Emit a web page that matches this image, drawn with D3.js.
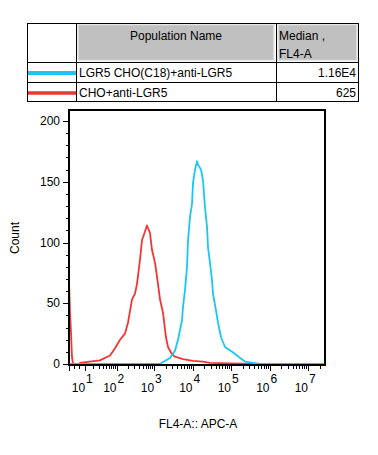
<!DOCTYPE html>
<html>
<head>
<meta charset="utf-8">
<script src="https://cdn.jsdelivr.net/npm/d3@7"></script>
<style>
  body { margin: 0; background: #fff; }
  text { font-family: "Liberation Sans", Arial, sans-serif; }
</style>
</head>
<body>
<div id="chart"></div>
<script>
// Populations shown in the legend table
const populations = ['LGR5 CHO(C18)+anti-LGR5', 'CHO+anti-LGR5'];
const medians = ['1.16E4', '625'];
const seriesColors = ['#1cc6f2', '#f23535'];

// Histogram outlines, [FL4-A value, count]
const cyanCounts = [
  [0, 0], [1400, 0], [2600, 5], [3500, 11], [4200, 20], [5330, 36], [5660, 47],
  [6380, 61], [7190, 80], [7640, 102], [8610, 121], [9710, 132], [10300, 149],
  [11620, 160], [13100, 167], [13910, 164], [16640, 160], [18760, 151], [21100, 129],
  [23790, 113], [25260, 96], [28470, 83], [32090, 69], [34070, 58], [40780, 44],
  [45960, 34], [55000, 22], [69900, 14], [106300, 10], [143300, 7], [171500, 5],
  [230900, 2], [372600, 1], [567000, 0], [2.76e7, 0]
];
const redCounts = [
  [0, 68], [0.4, 42], [0.8, 25], [1.2, 6], [1.7, 0], [5.5, 0], [5.8, 1], [15, 2],
  [33, 3], [66, 7], [91, 13], [125, 20], [170, 25], [205, 34], [262, 53], [315, 58],
  [356, 66], [427, 86], [482, 102], [578, 109], [650, 114], [780, 108], [880, 94],
  [1060, 83], [1190, 72], [1430, 53], [1710, 42], [2040, 22], [2300, 14], [2930, 8],
  [3500, 6], [5660, 4], [10300, 2.5], [18800, 2], [28500, 1], [94000, 0.5], [370000, 0]
];

const xDecades = [1, 2, 3, 4, 5, 6, 7];
const yMajorTicks = [0, 50, 100, 150, 200];

const width = 378, height = 455;
const plot = { left: 69, right: 325, top: 110, bottom: 364 };

const svg = d3.select('#chart').append('svg')
  .attr('width', width)
  .attr('height', height);

// ---------- legend table ----------
const tbl = svg.append('g');
const colX = [27, 76, 276, 359];
const rowY = [23, 62, 82, 102];

// gray header cells
[[colX[1], colX[2]], [colX[2], colX[3]]].forEach(([a, b]) => {
  tbl.append('rect')
    .attr('x', a + 2).attr('y', rowY[0] + 1.5)
    .attr('width', b - a - 4).attr('height', rowY[1] - rowY[0] - 3)
    .attr('fill', '#c0c0c0')
    .attr('stroke', '#e6e6e6')
    .attr('stroke-width', 1.5);
});

tbl.append('rect')
  .attr('x', colX[0] + 0.5).attr('y', rowY[0] + 0.5)
  .attr('width', colX[3] - colX[0] - 1).attr('height', rowY[3] - rowY[0] - 1)
  .attr('fill', 'none').attr('stroke', '#000');

[colX[1], colX[2]].forEach(x => {
  tbl.append('line')
    .attr('x1', x + 0.5).attr('x2', x + 0.5)
    .attr('y1', rowY[0]).attr('y2', rowY[3])
    .attr('stroke', '#000');
});
[rowY[1], rowY[2]].forEach(y => {
  tbl.append('line')
    .attr('x1', colX[0]).attr('x2', colX[3])
    .attr('y1', y + 0.5).attr('y2', y + 0.5)
    .attr('stroke', '#000');
});

tbl.append('text')
  .attr('x', (colX[1] + colX[2]) / 2).attr('y', 40)
  .attr('text-anchor', 'middle')
  .style('font-size', '12px')
  .text('Population Name');
tbl.append('text')
  .attr('x', colX[2] + 3).attr('y', 40)
  .style('font-size', '12px')
  .text('Median ,');
tbl.append('text')
  .attr('x', colX[2] + 3).attr('y', 58)
  .style('font-size', '12px')
  .text('FL4-A');

populations.forEach((name, i) => {
  const top = rowY[i + 1], bot = rowY[i + 2];
  const mid = (top + bot) / 2;
  tbl.append('line')
    .attr('x1', colX[0] + 1).attr('x2', colX[1])
    .attr('y1', mid + 1).attr('y2', mid + 1)
    .attr('stroke', seriesColors[i])
    .attr('stroke-width', i === 0 ? 4 : 3.5);
  tbl.append('text')
    .attr('x', colX[1] + 3).attr('y', mid + 5)
    .style('font-size', '12px')
    .text(name);
  tbl.append('text')
    .attr('x', colX[3] - 3).attr('y', mid + 5)
    .attr('text-anchor', 'end')
    .style('font-size', '12px')
    .text(medians[i]);
});

// ---------- histogram ----------
const x = d3.scaleSymlog()
  .constant(6.2)
  .domain([0, 2.76e7])
  .range([plot.left, plot.right]);

const y = d3.scaleLinear()
  .domain([0, 200])
  .range([plot.bottom, 121]);

svg.append('defs').append('clipPath').attr('id', 'clip')
  .append('rect')
  .attr('x', plot.left).attr('y', plot.top)
  .attr('width', plot.right - plot.left).attr('height', plot.bottom - plot.top + 1);

const line = d3.line()
  .x(d => x(d[0]))
  .y(d => y(d[1]));

const curves = svg.append('g').attr('clip-path', 'url(#clip)');
curves.append('path')
  .datum(redCounts)
  .attr('d', line)
  .attr('fill', 'none')
  .attr('stroke', seriesColors[1])
  .attr('stroke-width', 1.8)
  .attr('stroke-linejoin', 'round');
curves.append('path')
  .datum(cyanCounts)
  .attr('d', line)
  .attr('fill', 'none')
  .attr('stroke', seriesColors[0])
  .attr('stroke-width', 1.8)
  .attr('stroke-linejoin', 'round');

// frame
svg.append('rect')
  .attr('x', plot.left).attr('y', plot.top)
  .attr('width', plot.right - plot.left).attr('height', plot.bottom + 1 - plot.top)
  .attr('fill', 'none')
  .attr('stroke', '#000')
  .attr('stroke-width', 2);

// y axis ticks
const yMinor = d3.range(0, 210, 10);
svg.append('g').selectAll('line')
  .data(yMinor)
  .join('line')
  .attr('x1', d => plot.left - (d % 50 === 0 ? 6 : 3))
  .attr('x2', plot.left)
  .attr('y1', d => Math.round(y(d)) + 0.5)
  .attr('y2', d => Math.round(y(d)) + 0.5)
  .attr('stroke', '#000');

svg.append('g').selectAll('text')
  .data(yMajorTicks)
  .join('text')
  .attr('x', plot.left - 9)
  .attr('y', d => y(d) + 4)
  .attr('text-anchor', 'end')
  .style('font-size', '12px')
  .text(d => d);

svg.append('text')
  .attr('transform', `translate(19, 238) rotate(-90)`)
  .attr('text-anchor', 'middle')
  .style('font-size', '12px')
  .text('Count');

// x axis ticks
const xMajor = [0].concat(xDecades.map(d => Math.pow(10, d)));
const xMinor = [2, 5];
xDecades.forEach(d => {
  d3.range(2, 10).forEach(k => {
    const v = k * Math.pow(10, d);
    if (v <= x.domain()[1]) xMinor.push(v);
  });
});

svg.append('g').selectAll('line')
  .data(xMinor)
  .join('line')
  .attr('x1', d => Math.round(x(d)) + 0.5)
  .attr('x2', d => Math.round(x(d)) + 0.5)
  .attr('y1', plot.bottom + 1)
  .attr('y2', plot.bottom + 5)
  .attr('stroke', '#000');
svg.append('g').selectAll('line')
  .data(xMajor)
  .join('line')
  .attr('x1', d => Math.round(x(d)) + 0.5)
  .attr('x2', d => Math.round(x(d)) + 0.5)
  .attr('y1', plot.bottom + 1)
  .attr('y2', plot.bottom + 7)
  .attr('stroke', '#000');

const xLabels = svg.append('g').selectAll('g')
  .data(xDecades)
  .join('g')
  .attr('transform', d => `translate(${x(Math.pow(10, d))},0)`);
xLabels.append('text')
  .attr('x', 0).attr('y', 392)
  .attr('text-anchor', 'end')
  .style('font-size', '12px')
  .text('10');
xLabels.append('text')
  .attr('x', 1).attr('y', 383)
  .style('font-size', '12px')
  .text(d => d);

svg.append('text')
  .attr('x', 198).attr('y', 428)
  .attr('text-anchor', 'middle')
  .style('font-size', '12px')
  .text('FL4-A:: APC-A');
</script>
</body>
</html>
